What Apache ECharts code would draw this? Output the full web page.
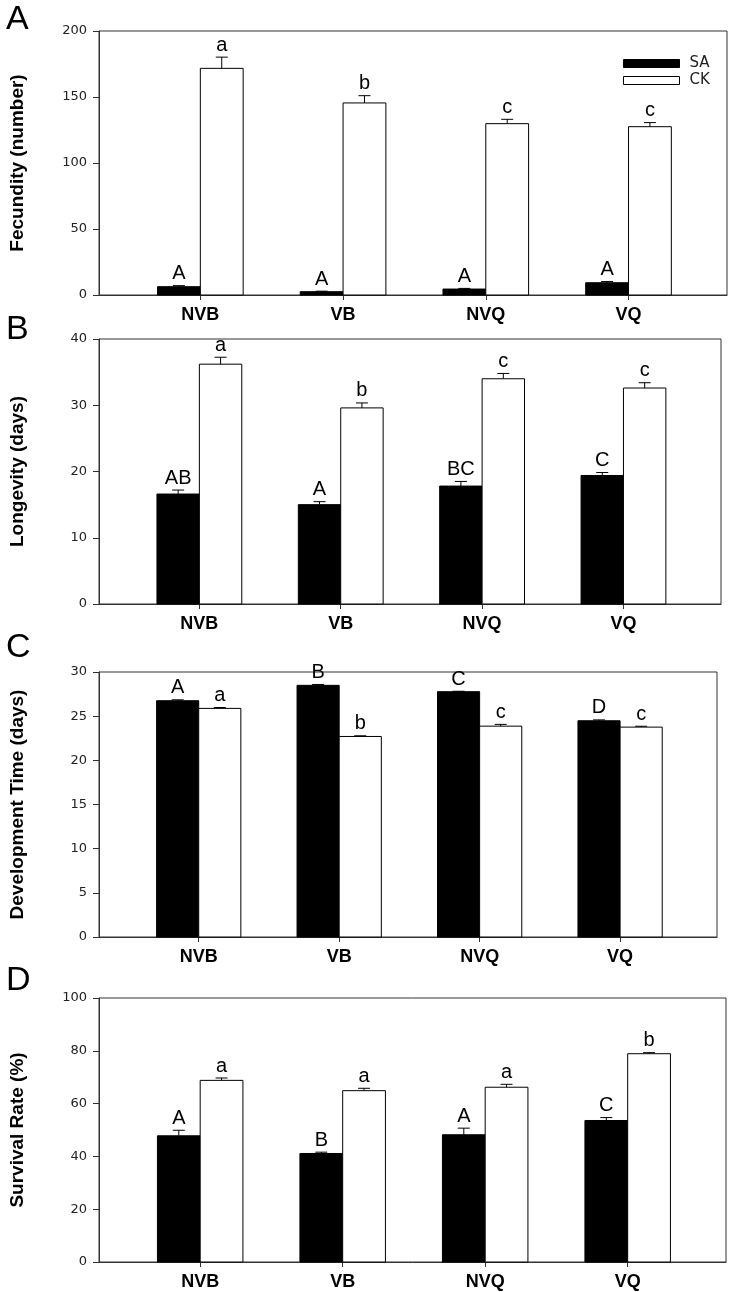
<!DOCTYPE html>
<html>
<head>
<meta charset="utf-8">
<script src="https://cdn.jsdelivr.net/npm/echarts@6/dist/echarts.min.js"></script>
<style>
html,body{margin:0;padding:0;background:#fff;}
#chart{width:731px;height:1292px;}
</style>
</head>
<body>
<div id="chart"></div>
<script>
// ---------- data ----------
const categories = ['NVB', 'VB', 'NVQ', 'VQ'];
const seriesNames = ['SA', 'CK'];

const fecunditySA = [6.3, 2.5, 4.5, 9.3];
const fecunditySAErr = [0.8, 0.4, 0.5, 0.9];
const fecundityCK = [171.7, 145.5, 129.8, 127.5];
const fecundityCKErr = [8.5, 5.5, 3.3, 3.1];
const fecunditySALetters = ['A', 'A', 'A', 'A'];
const fecundityCKLetters = ['a', 'b', 'c', 'c'];
const fecundityTicks = [0, 50, 100, 150, 200];

const longevitySA = [16.6, 15.0, 17.8, 19.4];
const longevitySAErr = [0.6, 0.45, 0.7, 0.45];
const longevityCK = [36.2, 29.6, 34.0, 32.6];
const longevityCKErr = [1.05, 0.75, 0.8, 0.8];
const longevitySALetters = ['AB', 'A', 'BC', 'C'];
const longevityCKLetters = ['a', 'b', 'c', 'c'];
const longevityTicks = [0, 10, 20, 30, 40];

const devTimeSA = [26.75, 28.49, 27.77, 24.48];
const devTimeSAErr = [0.1, 0.1, 0.05, 0.1];
const devTimeCK = [25.88, 22.7, 23.87, 23.76];
const devTimeCKErr = [0.1, 0.08, 0.2, 0.1];
const devTimeSALetters = ['A', 'B', 'C', 'D'];
const devTimeCKLetters = ['a', 'b', 'c', 'c'];
const devTimeTicks = [0, 5, 10, 15, 20, 25, 30];

const survivalSA = [47.8, 41.1, 48.2, 53.6];
const survivalSAErr = [2.1, 0.5, 2.5, 1.1];
const survivalCK = [68.8, 64.9, 66.2, 78.9];
const survivalCKErr = [0.9, 0.9, 1.1, 0.4];
const survivalSALetters = ['A', 'B', 'A', 'C'];
const survivalCKLetters = ['a', 'a', 'a', 'b'];
const survivalTicks = [0, 20, 40, 60, 80, 100];

const panelLetters = ['A', 'B', 'C', 'D'];
const yTitles = ['Fecundity (number)', 'Longevity (days)', 'Development Time (days)', 'Survival Rate (%)'];

// ---------- layout ----------
const panels = [
  {sa: fecunditySA, saErr: fecunditySAErr, ck: fecundityCK, ckErr: fecundityCKErr, saL: fecunditySALetters, ckL: fecundityCKLetters, ticks: fecundityTicks},
  {sa: longevitySA, saErr: longevitySAErr, ck: longevityCK, ckErr: longevityCKErr, saL: longevitySALetters, ckL: longevityCKLetters, ticks: longevityTicks},
  {sa: devTimeSA, saErr: devTimeSAErr, ck: devTimeCK, ckErr: devTimeCKErr, saL: devTimeSALetters, ckL: devTimeCKLetters, ticks: devTimeTicks},
  {sa: survivalSA, saErr: survivalSAErr, ck: survivalCK, ckErr: survivalCKErr, saL: survivalSALetters, ckL: survivalCKLetters, ticks: survivalTicks}
];
const gridLeft = [98, 92, 88, 97];
const gridTop = [31, 339, 672, 998];
const gridHeight = [264, 265, 265, 264];
const gridWidth = 629;
const letterY = [20, 330, 648, 981];
const BAR_W = 0.3;   // bar width in category units
const CAP = 6;       // half width of error bar cap (px)

const FONT = "'Liberation Sans', Arial, sans-serif";
const TICKFONT = "'DejaVu Sans', Verdana, sans-serif";

const chart = echarts.init(document.getElementById('chart'), null, {renderer: 'canvas'});

function makeRender(side, errs, letters) {
  return function (params, api) {
    const x = api.value(0), v = api.value(1), e = errs[params.dataIndex];
    const x0 = side === 0 ? x - BAR_W : x;
    const pTop = api.coord([x0, v]);
    const pBot = api.coord([x0 + BAR_W, 0]);
    const xm = api.coord([x0 + BAR_W / 2, v])[0];
    const yErr = api.coord([x0, v + e])[1];
    return {
      type: 'group',
      children: [
        {type: 'rect', shape: {x: pTop[0], y: pTop[1], width: pBot[0] - pTop[0], height: pBot[1] - pTop[1]},
         style: {fill: side === 0 ? '#000' : '#fff', stroke: '#000', lineWidth: 1}},
        {type: 'line', shape: {x1: xm, y1: pTop[1], x2: xm, y2: yErr}, style: {stroke: '#000', lineWidth: 1}},
        {type: 'line', shape: {x1: xm - CAP, y1: yErr, x2: xm + CAP, y2: yErr}, style: {stroke: '#000', lineWidth: 1}},
        {type: 'text', style: {text: letters[params.dataIndex], x: xm, y: yErr - 2, align: 'center', verticalAlign: 'bottom',
          font: "20px 'Liberation Sans Narrow', 'Liberation Sans', Arial, sans-serif", fill: '#000'}}
      ]
    };
  };
}

const grid = [], xAxis = [], yAxis = [], series = [], graphic = [];
panels.forEach(function (p, i) {
  grid.push({left: gridLeft[i], top: gridTop[i], width: gridWidth, height: gridHeight[i],
    show: true, borderColor: '#333', borderWidth: 1, backgroundColor: 'transparent', containLabel: false});
  xAxis.push({
    type: 'value', gridIndex: i, min: 0.29, max: 4.69,
    splitLine: {show: false},
    axisLine: {show: true, onZero: false, lineStyle: {color: '#333', width: 1}},
    axisTick: {show: true, inside: false, length: 5, customValues: [1, 2, 3, 4], lineStyle: {color: '#333'}},
    axisLabel: {show: true, customValues: [1, 2, 3, 4], margin: 11,
      formatter: function (val) { return categories[Math.round(val) - 1] || ''; },
      fontFamily: FONT, fontWeight: 'bold', fontSize: 18, color: '#000'}
  });
  const t = p.ticks;
  yAxis.push({
    type: 'value', gridIndex: i, min: t[0], max: t[t.length - 1], interval: t[1] - t[0],
    splitLine: {show: false},
    axisLine: {show: true, lineStyle: {color: '#333', width: 1}},
    axisTick: {show: true, inside: false, length: 6, lineStyle: {color: '#333'}},
    axisLabel: {margin: 12, fontFamily: TICKFONT, fontSize: 13, color: '#222'},
    name: yTitles[i], nameLocation: 'middle', nameGap: 72,
    nameTextStyle: {fontFamily: FONT, fontWeight: 'bold', fontSize: 19, color: '#000'}
  });
  series.push({
    name: seriesNames[0], type: 'custom', xAxisIndex: i, yAxisIndex: i,
    itemStyle: {color: '#000', borderColor: '#000', borderWidth: 1},
    encode: {x: 0, y: 1}, clip: false,
    data: p.sa.map(function (v, k) { return [k + 1, v]; }),
    renderItem: makeRender(0, p.saErr, p.saL)
  });
  series.push({
    name: seriesNames[1], type: 'custom', xAxisIndex: i, yAxisIndex: i,
    itemStyle: {color: '#fff', borderColor: '#000', borderWidth: 1},
    encode: {x: 0, y: 1}, clip: false,
    data: p.ck.map(function (v, k) { return [k + 1, v]; }),
    renderItem: makeRender(1, p.ckErr, p.ckL)
  });
  graphic.push({type: 'text', left: 6, top: letterY[i] - 17,
    style: {text: panelLetters[i], font: "34px 'Liberation Sans', Arial, sans-serif", fill: '#000'}});
});

chart.setOption({
  animation: false,
  backgroundColor: '#fff',
  grid: grid, xAxis: xAxis, yAxis: yAxis, series: series, graphic: graphic,
  legend: {
    data: [
      {name: 'SA', itemStyle: {color: '#000', borderColor: '#000', borderWidth: 1}},
      {name: 'CK', itemStyle: {color: '#fff', borderColor: '#000', borderWidth: 1}}
    ],
    orient: 'vertical', left: 618, top: 51, itemWidth: 56, itemHeight: 8, itemGap: 2, icon: 'rect',
    textStyle: {fontFamily: TICKFONT, fontSize: 15, color: '#222', padding: [0, 0, 0, 5]}
  }
});
</script>
</body>
</html>
